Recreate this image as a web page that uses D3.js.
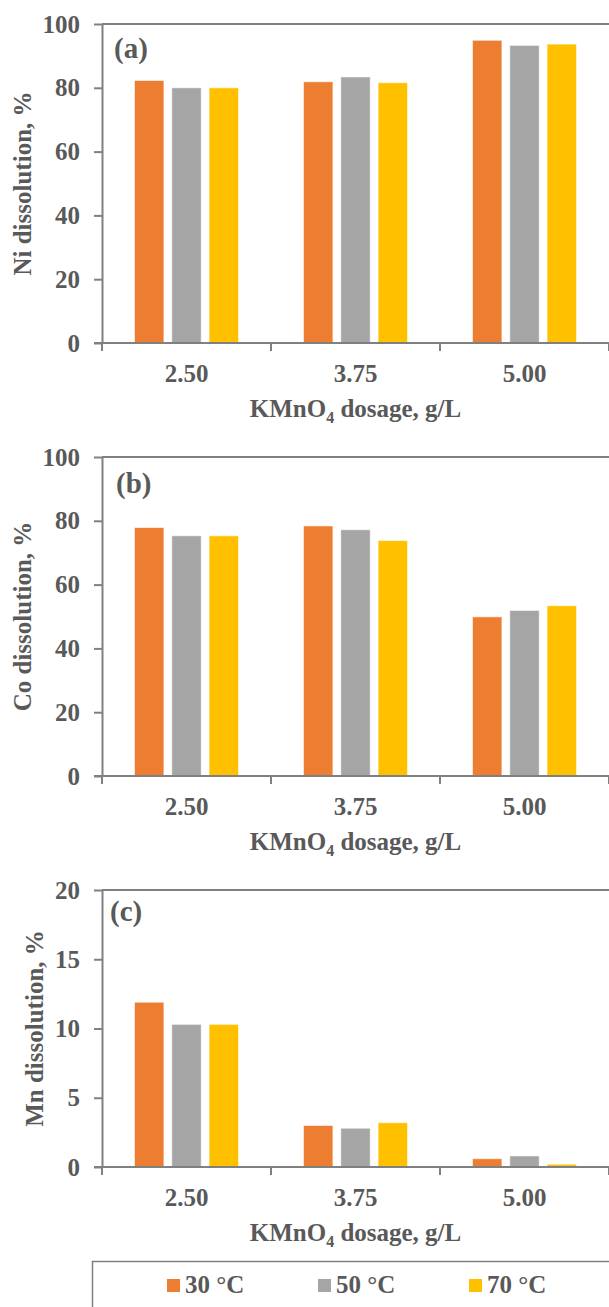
<!DOCTYPE html>
<html>
<head>
<meta charset="utf-8">
<script src="https://cdn.jsdelivr.net/npm/d3@7"></script>
<style>
  body { margin: 0; background: #fff; }
  .lbl { font-family: "Liberation Serif", "Times New Roman", serif; font-weight: 700; fill: #595959; }
</style>
</head>
<body>
<div class="chart"></div>
<script>
// categories and series
const dosages = ['2.50', '3.75', '5.00'];
const temps = ['30 °C', '50 °C', '70 °C'];
const colors = ['#ED7D31', '#A5A5A5', '#FFC000'];

// rows = temperature (30, 50, 70 °C), columns = dosage
const niValues = [[82.3, 81.9, 94.9], [80.0, 83.4, 93.3], [80.0, 81.6, 93.7]];
const coValues = [[77.9, 78.4, 49.9], [75.3, 77.2, 51.9], [75.3, 73.8, 53.4]];
const mnValues = [[11.9, 3.0, 0.6], [10.3, 2.8, 0.8], [10.3, 3.2, 0.2]];

// tick labels
const ticks100 = [0, 20, 40, 60, 80, 100];
const ticks20 = [0, 5, 10, 15, 20];

const panelNames = ['(a)', '(b)', '(c)'];
const yTitles = ['Ni dissolution, %', 'Co dissolution, %', 'Mn dissolution, %'];

const panels = [
  { name: panelNames[0], title: yTitles[0], values: niValues, ticks: ticks100, top: 24, h: 319, titleX: 30.5, tagDx: 12, tagDy: 34 },
  { name: panelNames[1], title: yTitles[1], values: coValues, ticks: ticks100, top: 457, h: 319, titleX: 30.5, tagDx: 14, tagDy: 36 },
  { name: panelNames[2], title: yTitles[2], values: mnValues, ticks: ticks20, top: 890, h: 277, titleX: 42.5, tagDx: 8, tagDy: 31 }
];

const width = 609;
const height = 1307;
const left = 102;
const right = 609;
const axisColor = '#808080';

const svg = d3.select('.chart')
  .append('svg')
    .attr('width', width)
    .attr('height', height);

//x scales (shared by all panels)
const x0 = d3.scaleBand()
  .domain(dosages)
  .range([left, right]);
const x1 = d3.scaleBand()
  .domain(temps)
  .range([0, x0.bandwidth()])
  .paddingInner(0.21)
  .paddingOuter(0.87);

panels.forEach(p => {
  const bottom = p.top + p.h;
  const y = d3.scaleLinear()
    .domain([0, d3.max(p.ticks)])
    .range([bottom, p.top]);

  const g = svg.append('g');

  //top border of plot area
  g.append('line')
    .attr('x1', left)
    .attr('x2', right)
    .attr('y1', y(d3.max(p.ticks)))
    .attr('y2', y(d3.max(p.ticks)))
    .style('stroke', axisColor)
    .style('stroke-width', 2);

  //bars
  const groups = g.selectAll('.grp')
    .data(dosages)
    .enter().append('g')
    .attr('transform', d => `translate(${x0(d)},0)`);

  groups.selectAll('rect')
    .data((d, i) => temps.map((t, j) => ({ temp: t, value: p.values[j][i], color: colors[j] })))
    .enter().append('rect')
    .attr('x', d => x1(d.temp))
    .attr('width', x1.bandwidth())
    .attr('y', d => y(d.value))
    .attr('height', d => y(0) - y(d.value))
    .style('fill', d => d.color)
    .style('stroke', '#fff')
    .style('stroke-opacity', 0.6)
    .style('stroke-width', 1);

  //y axis
  const yAxis = g.append('g')
    .attr('transform', `translate(${left},0)`)
    .call(d3.axisLeft(y).tickValues(p.ticks).tickSize(8).tickSizeOuter(0).tickPadding(14));
  yAxis.select('.domain')
    .style('stroke', axisColor)
    .style('stroke-width', 2);
  yAxis.selectAll('.tick line')
    .style('stroke', axisColor)
    .style('stroke-width', 2);
  yAxis.selectAll('.tick text')
    .attr('class', 'lbl')
    .style('font-size', '25px');

  //x axis (labels at centers, ticks at category borders)
  const xAxis = g.append('g')
    .attr('transform', `translate(0,${bottom})`)
    .call(d3.axisBottom(x0).tickSize(0).tickPadding(21));
  xAxis.select('.domain').remove();
  xAxis.selectAll('.tick text')
    .attr('class', 'lbl')
    .style('font-size', '25px');

  g.append('line')
    .attr('x1', left - 8)
    .attr('x2', right)
    .attr('y1', bottom)
    .attr('y2', bottom)
    .style('stroke', axisColor)
    .style('stroke-width', 2);

  g.selectAll('.xtick')
    .data(dosages.map(d => x0(d)).concat([right]))
    .enter().append('line')
    .attr('x1', d => d)
    .attr('x2', d => d)
    .attr('y1', bottom)
    .attr('y2', bottom + 8)
    .style('stroke', axisColor)
    .style('stroke-width', 2);

  //x title with subscript
  const xt = g.append('text')
    .attr('class', 'lbl')
    .attr('x', (left + right) / 2)
    .attr('y', bottom + 74)
    .attr('text-anchor', 'middle')
    .style('font-size', '25px');
  xt.append('tspan').text('KMnO');
  xt.append('tspan').attr('dy', 6).style('font-size', '16px').text('4');
  xt.append('tspan').attr('dy', -6).text(' dosage, g/L');

  //y title
  g.append('text')
    .attr('class', 'lbl')
    .attr('transform', `translate(${p.titleX},${(p.top + bottom) / 2}) rotate(-90)`)
    .attr('text-anchor', 'middle')
    .style('font-size', '25px')
    .text(p.title);

  //panel tag
  g.append('text')
    .attr('class', 'lbl')
    .attr('x', left + p.tagDx)
    .attr('y', p.top + p.tagDy)
    .style('font-size', '29px')
    .text(p.name);
});

//legend
const legend = svg.append('g');
legend.append('rect')
  .attr('x', 92.5)
  .attr('y', 1261.5)
  .attr('width', 600)
  .attr('height', 100)
  .style('fill', 'none')
  .style('stroke', axisColor)
  .style('stroke-width', 1.5);

const items = legend.selectAll('.item')
  .data(temps)
  .enter().append('g')
  .attr('transform', (d, i) => `translate(${167 + i * 151},1279)`);
items.append('rect')
  .attr('width', 13)
  .attr('height', 13)
  .style('fill', (d, i) => colors[i]);
items.append('text')
  .attr('class', 'lbl')
  .attr('x', 18)
  .attr('y', 14)
  .style('font-size', '25px')
  .text(d => d);
</script>
</body>
</html>
